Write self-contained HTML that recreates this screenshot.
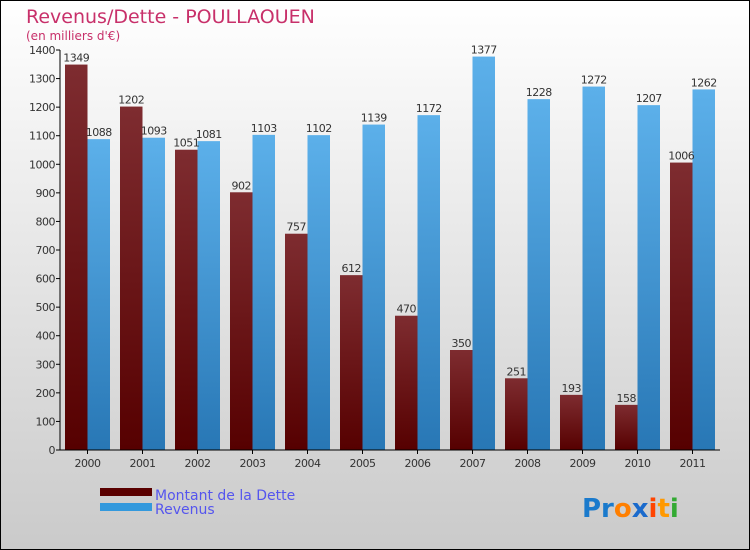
<!DOCTYPE html>
<html><head><meta charset="utf-8"><style>
body{margin:0}
#c{width:750px;height:550px;position:relative;overflow:hidden;font-family:"DejaVu Sans","Liberation Sans",sans-serif}
</style></head><body>
<div id="c">
<svg id="s" width="750" height="550" xmlns="http://www.w3.org/2000/svg">
<defs>
<linearGradient id="bg" x1="0" y1="0" x2="0" y2="1"><stop offset="0" stop-color="#ffffff"/><stop offset="1" stop-color="#cacaca"/></linearGradient>
<linearGradient id="gd" x1="0" y1="0" x2="0" y2="1"><stop offset="0" stop-color="#7e2c30"/><stop offset="1" stop-color="#560000"/></linearGradient>
<linearGradient id="gr" x1="0" y1="0" x2="0" y2="1"><stop offset="0" stop-color="#5cb0ea"/><stop offset="1" stop-color="#2877b5"/></linearGradient>
</defs>
<rect x="0.5" y="0.5" width="749" height="549" fill="url(#bg)" stroke="#000"/>
<text x="26" y="23" font-size="19" fill="#c8306a">Revenus/Dette - POULLAOUEN</text>
<text x="26" y="40" font-size="12" fill="#c8306a">(en milliers d'€)</text>
<g id="plot"></g>
<rect x="100" y="488" width="52" height="8" fill="#5a0000"/>
<text x="155" y="500" font-size="14" fill="#5555ee">Montant de la Dette</text>
<rect x="100" y="503" width="52" height="8" fill="#3399dd"/>
<text x="155" y="514" font-size="14" fill="#5555ee">Revenus</text>
<text x="582" y="517" font-size="26" font-weight="bold"><tspan fill="#1a7acc">Pr</tspan><tspan fill="#ff7f00">o</tspan><tspan fill="#1a6acc">x</tspan><tspan fill="#ff4400">i</tspan><tspan fill="#ff9900">t</tspan><tspan fill="#33aa33">i</tspan></text>
</svg>
</div>
<script>
const years=["2000","2001","2002","2003","2004","2005","2006","2007","2008","2009","2010","2011"];
const dette=[1349,1202,1051,902,757,612,470,350,251,193,158,1006];
const revenus=[1088,1093,1081,1103,1102,1139,1172,1377,1228,1272,1207,1262];
const ticks=[0,100,200,300,400,500,600,700,800,900,1000,1100,1200,1300,1400];
const NS="http://www.w3.org/2000/svg";
const g=document.getElementById('plot');
const x0=60,x1=720,yb=450,yt=50,max=1400;
const step=(x1-x0)/years.length;
const y=v=>yb-(v/max)*(yb-yt);
function el(t,a){const e=document.createElementNS(NS,t);for(const k in a)e.setAttribute(k,a[k]);g.appendChild(e);return e;}
ticks.forEach(t=>{
 const l=el('line',{x1:x0-4,x2:x0,y1:y(t),y2:y(t),stroke:'#000'});
 
 
 const tx=el('text',{x:x0-5,y:y(t)+4,'font-size':11,'text-anchor':'end',fill:'#333','letter-spacing':'-0.5'});
 tx.textContent=t;
 
 
});
years.forEach((yr,i)=>{
 const gx=x0+i*step+5,bw=22.5;
 const b1=el('rect',{x:gx,y:y(dette[i]),width:bw,height:yb-y(dette[i]),fill:'url(#gd)'});
 
 
 const b2=el('rect',{x:gx+bw,y:y(revenus[i]),width:bw,height:yb-y(revenus[i]),fill:'url(#gr)'});
 
 
 const t1=el('text',{x:gx+bw/2,y:y(dette[i])-3,'font-size':11,'text-anchor':'middle',fill:'#333','letter-spacing':'-0.5'});
 t1.textContent=dette[i];
 
 
 const t2=el('text',{x:gx+bw*1.5,y:y(revenus[i])-3,'font-size':11,'text-anchor':'middle',fill:'#333','letter-spacing':'-0.5'});
 t2.textContent=revenus[i];
 
 
 const xl=el('text',{x:gx+bw,y:467,'font-size':11,'text-anchor':'middle',fill:'#333','letter-spacing':'-0.5'});
 xl.textContent=yr;
 
 
 const xt=el('line',{x1:gx+bw,x2:gx+bw,y1:yb,y2:yb+4,stroke:'#000'});
 
 
});
const ya=el('line',{x1:x0,x2:x0,y1:yt,y2:yb,stroke:'#000'});


const xa=el('line',{x1:x0,x2:x1,y1:yb,y2:yb,stroke:'#000'});


</script>
</body></html>
